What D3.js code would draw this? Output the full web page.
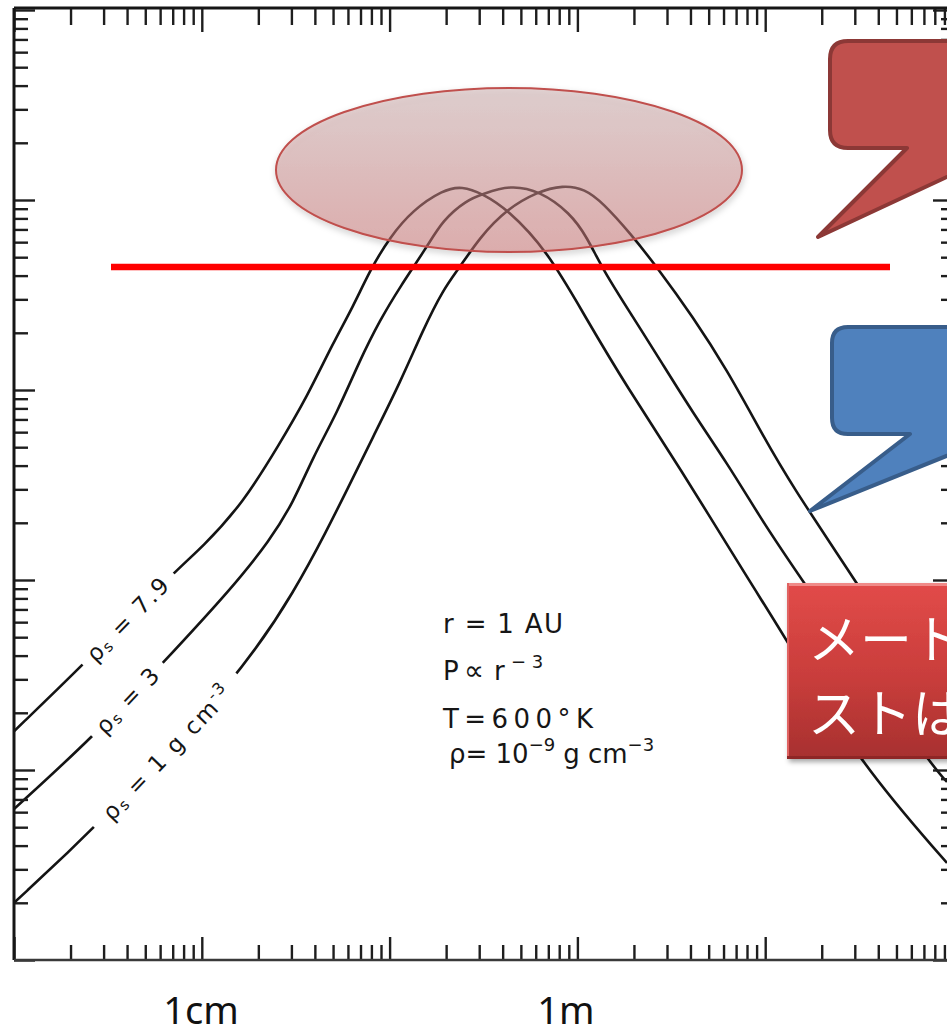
<!DOCTYPE html>
<html>
<head>
<meta charset="utf-8">
<script src="https://cdn.jsdelivr.net/npm/d3@7"></script>
<style>
  html, body { margin: 0; padding: 0; background: #fff; overflow: hidden; }
  svg { display: block; }
</style>
</head>
<body>
<svg id="chart" width="947" height="1031"></svg>
<script>
// Radial drift velocity (cm/s) versus particle radius (cm), r = 1 AU, three solid densities.
const rho79Size = [0.1, 0.233, 0.703, 1.01, 1.66, 2.61, 3.63, 5.0, 6.38, 7.87, 10.05, 13.3, 19.2, 24.3, 31.4, 42.2, 68.9, 112.5, 183.6, 339, 861, 1306, 3083, 9290];
const rho79Vel  = [16.0, 35.7, 109, 149, 254, 526, 919, 1770, 2735, 4280, 6390, 8860, 11290, 11850, 10760, 8970, 5455, 2336, 1037, 413, 91.9, 48.3, 11.3, 3.24];

const rho3Size = [0.1, 0.263, 0.621, 1.466, 2.307, 3.06, 3.91, 5.25, 6.95, 8.89, 11.35, 15.8, 19.2, 25.8, 31.4, 43.8, 63.2, 91.4, 112.5, 136.8, 197.7, 275.4, 412.7, 626, 938, 1355, 7273, 9290];
const rho3Vel  = [6.23, 14.9, 36.6, 91.9, 162.4, 254, 444, 757, 1439, 2335, 3484, 5660, 7850, 10000, 10760, 11990, 11150, 8550, 6385, 4285, 2422, 1439, 757, 413, 214.7, 122.8, 11.3, 8.65];

const rho1Size = [0.1, 0.270, 1.597, 3.21, 4.64, 5.93, 8.16, 11.35, 15.06, 19.2, 23.7, 30.3, 42.2, 60.9, 83.8, 109.8, 136.8, 190.6, 265.3, 412.7, 626.6, 937.6, 1355, 3083, 9290];
const rho1Vel  = [2.0, 4.95, 30.9, 91.9, 183.3, 297.6, 566, 1089, 2069, 3359, 4439, 6385, 8970, 11020, 11990, 11430, 9640, 6700, 4439, 2422, 1274, 615.6, 324, 96.4, 17.9];

// Curve labels: [density value text, unit exponent]
const curveLabels = [["7.9", ""], ["3", ""], ["1 g cm", "-3"]];

// Axis extents (decades)
const sizeDomain = [0.1, 1e4];
const velDomain = [1, 1e5];

// Slide annotations
const sizeLabels = ["1cm", "1m"];
const conditionLines = ["r = 1 AU", "P", "\u221D", "r", "T=600\u00B0K", "\u03C1= 10"];
const boxLines = ["メートルサイズのダ", "ストは中心星へ落下"];

// ---------------------------------------------------------------
const svg = d3.select("#chart");
const W = 947, H = 1031;
const plotL = 14, plotR = 953, plotT = 8, plotB = 960;

const x = d3.scaleLog().domain(sizeDomain).range([plotL, plotR]);
const y = d3.scaleLog().domain(velDomain).range([plotB, 10]);

const defs = svg.append("defs");
defs.append("clipPath").attr("id", "plotClip")
  .append("rect").attr("x", plotL).attr("y", plotT).attr("width", plotR - plotL).attr("height", plotB - plotT);

const ellGrad = defs.append("linearGradient").attr("id", "ellGrad").attr("x1", 0).attr("y1", 0).attr("x2", 0).attr("y2", 1);
ellGrad.append("stop").attr("offset", "0%").attr("stop-color", "rgb(206,176,176)").attr("stop-opacity", 0.5);
ellGrad.append("stop").attr("offset", "100%").attr("stop-color", "rgb(203,115,115)").attr("stop-opacity", 0.5);

const boxGrad = defs.append("linearGradient").attr("id", "boxGrad").attr("x1", 0).attr("y1", 0).attr("x2", 0).attr("y2", 1);
boxGrad.append("stop").attr("offset", "0%").attr("stop-color", "#e24b49");
boxGrad.append("stop").attr("offset", "55%").attr("stop-color", "#c83d3b");
boxGrad.append("stop").attr("offset", "100%").attr("stop-color", "#a7302f");

const shadow = defs.append("filter").attr("id", "shadow").attr("x", "-10%").attr("y", "-10%").attr("width", "130%").attr("height", "140%");
shadow.append("feDropShadow").attr("dx", 2).attr("dy", 3).attr("stdDeviation", 2.5)
  .attr("flood-color", "#000").attr("flood-opacity", 0.35);

const softShadow = defs.append("filter").attr("id", "softShadow").attr("x", "-10%").attr("y", "-10%").attr("width", "130%").attr("height", "140%");
softShadow.append("feDropShadow").attr("dx", 1).attr("dy", 3).attr("stdDeviation", 3)
  .attr("flood-color", "#000").attr("flood-opacity", 0.25);

svg.append("rect").attr("width", W).attr("height", H).attr("fill", "#fff");

// ---- curves ----
const series = [
  { size: rho79Size, vel: rho79Vel, label: curveLabels[0] },
  { size: rho3Size,  vel: rho3Vel,  label: curveLabels[1] },
  { size: rho1Size,  vel: rho1Vel,  label: curveLabels[2] }
];

const line = d3.line()
  .x(d => x(d[0]))
  .y(d => y(d[1]))
  .curve(d3.curveBasis);

const plot = svg.append("g").attr("clip-path", "url(#plotClip)");

series.forEach(s => {
  const pts = s.size.map((v, i) => [v, s.vel[i]]);
  plot.append("path")
    .attr("d", line(pts))
    .attr("fill", "none")
    .attr("stroke", "#141414")
    .attr("stroke-width", 2.6);
});

// Labels sit in a break of each curve, between its 2nd and 3rd points
series.forEach(s => {
  const x0 = x(s.size[1]), y0 = y(s.vel[1]);
  const x1 = x(s.size[2]), y1 = y(s.vel[2]);
  const cx = (x0 + x1) / 2, cy = (y0 + y1) / 2;
  const len = Math.hypot(x1 - x0, y1 - y0);
  const ang = Math.atan2(y1 - y0, x1 - x0) * 180 / Math.PI;
  const g = svg.append("g").attr("transform", `translate(${cx},${cy}) rotate(${ang})`);
  g.append("rect").attr("x", -len / 2).attr("y", -16).attr("width", len).attr("height", 32).attr("fill", "#fff");
  const t = g.append("text")
    .attr("text-anchor", "middle")
    .attr("dominant-baseline", "central")
    .attr("font-family", "'DejaVu Sans', sans-serif")
    .attr("font-size", 23)
    .attr("letter-spacing", 2)
    .attr("fill", "#151515");
  t.append("tspan").text("\u03C1");
  t.append("tspan").attr("font-size", 15).attr("dy", 5).text("s");
  t.append("tspan").attr("dy", -5).text(" = " + s.label[0]);
  if (s.label[1]) t.append("tspan").attr("font-size", 16).attr("dy", -8).text(s.label[1]);
});

// ---- axes frame ----
function decadeTicks(domain) {
  const out = [];
  const e0 = Math.round(Math.log10(domain[0])), e1 = Math.round(Math.log10(domain[1]));
  for (let e = e0; e < e1; e++) for (let m = 1; m <= 9; m++) out.push(m * Math.pow(10, e));
  out.push(Math.pow(10, e1));
  return out;
}
const isMajor = v => Math.abs(Math.log10(v) - Math.round(Math.log10(v))) < 1e-6;
const xTicks = decadeTicks(sizeDomain);
const yTicks = decadeTicks(velDomain);

function styleAxis(g, attr, minor, major) {
  g.select(".domain").remove();
  g.selectAll(".tick line")
    .attr(attr, d => isMajor(d) ? major : minor)
    .attr("stroke", "#1e1e1e")
    .attr("stroke-width", 2.4);
}

svg.append("g").attr("transform", `translate(0,${plotB})`)
  .call(d3.axisBottom(x).tickValues(xTicks).tickFormat("").tickSizeOuter(0).tickSizeInner(-15))
  .call(g => styleAxis(g, "y2", -15, -23));
svg.append("g").attr("transform", `translate(0,${plotT})`)
  .call(d3.axisTop(x).tickValues(xTicks).tickFormat("").tickSizeOuter(0).tickSizeInner(-17))
  .call(g => styleAxis(g, "y2", 17, 24));
svg.append("g").attr("transform", `translate(${plotL},0)`)
  .call(d3.axisLeft(y).tickValues(yTicks).tickFormat("").tickSizeOuter(0).tickSizeInner(-14))
  .call(g => styleAxis(g, "x2", 14, 21));
svg.append("g").attr("transform", `translate(${plotR},0)`)
  .call(d3.axisRight(y).tickValues(yTicks).tickFormat("").tickSizeOuter(0).tickSizeInner(-14))
  .call(g => styleAxis(g, "x2", -12, -20));

const frame = svg.append("g").attr("fill", "none");
frame.append("line").attr("x1", plotL).attr("x2", plotR).attr("y1", plotT).attr("y2", plotT).attr("stroke", "#161616").attr("stroke-width", 3);
frame.append("line").attr("x1", plotL).attr("x2", plotL).attr("y1", plotT).attr("y2", plotB).attr("stroke", "#161616").attr("stroke-width", 3);
frame.append("line").attr("x1", plotL).attr("x2", plotR).attr("y1", plotB).attr("y2", plotB).attr("stroke", "#3a3a3a").attr("stroke-width", 2.5);
frame.append("line").attr("x1", plotR).attr("x2", plotR).attr("y1", plotT).attr("y2", plotB).attr("stroke", "#161616").attr("stroke-width", 3);

// ---- conditions block ----
const cond = svg.append("g")
  .attr("font-family", "'DejaVu Sans', sans-serif")
  .attr("font-size", 26)
  .attr("fill", "#161616");
cond.append("text").attr("x", 443).attr("y", 633).attr("textLength", 120).attr("lengthAdjust", "spacing").text(conditionLines[0]);
const p2 = cond.append("text").attr("y", 680);
p2.append("tspan").attr("x", 443).text(conditionLines[1]);
p2.append("tspan").attr("x", 464).attr("font-size", 28).text(conditionLines[2]);
p2.append("tspan").attr("x", 494).text(conditionLines[3]);
p2.append("tspan").attr("x", 511).attr("font-size", 18).attr("dy", -12).text("\u2212 3");
cond.append("text").attr("x", 443).attr("y", 728).attr("textLength", 150).attr("lengthAdjust", "spacing").text(conditionLines[4]);
const p4 = cond.append("text").attr("x", 449).attr("y", 763);
p4.append("tspan").text(conditionLines[5]);
p4.append("tspan").attr("font-size", 18).attr("dy", -12).text("\u22129");
p4.append("tspan").attr("dx", 8).attr("dy", 12).text("g cm");
p4.append("tspan").attr("font-size", 18).attr("dy", -12).text("\u22123");

// ---- slide overlays ----
// highlighted peak region
svg.append("ellipse")
  .attr("cx", 509).attr("cy", 170).attr("rx", 233).attr("ry", 82)
  .attr("fill", "url(#ellGrad)")
  .attr("stroke", "#c0504d").attr("stroke-width", 2)
  .attr("filter", "url(#softShadow)");

// threshold line
svg.append("line")
  .attr("x1", 111).attr("x2", 890).attr("y1", 267).attr("y2", 267)
  .attr("stroke", "#ff0000").attr("stroke-width", 6.5);

// red callout
svg.append("path")
  .attr("d", "M848,41 H1100 V148 H1009 L818,237 L907,148 H848 Q830,148 830,130 V59 Q830,41 848,41 Z")
  .attr("fill", "#c0504d").attr("stroke", "#8c3836").attr("stroke-width", 4).attr("stroke-linejoin", "round");

// blue callout
svg.append("path")
  .attr("d", "M848,327 H1100 V434 H1001 L810,511 L910,434 H848 Q832,434 832,418 V343 Q832,327 848,327 Z")
  .attr("fill", "#4f81bd").attr("stroke", "#385d8a").attr("stroke-width", 4).attr("stroke-linejoin", "round");

// red text box
const box = svg.append("g").attr("filter", "url(#shadow)");
box.append("rect").attr("x", 787).attr("y", 583).attr("width", 220).attr("height", 176).attr("fill", "url(#boxGrad)");
box.append("rect").attr("x", 787).attr("y", 583).attr("width", 220).attr("height", 3).attr("fill", "#f08a88");
box.append("rect").attr("x", 787).attr("y", 583).attr("width", 2).attr("height", 176).attr("fill", "#e06462");
box.append("rect").attr("x", 787).attr("y", 756).attr("width", 220).attr("height", 3).attr("fill", "#8e2827");
const bt = svg.append("g")
  .attr("font-family", "'Noto Sans CJK JP', sans-serif")
  .attr("font-size", 52)
  .attr("fill", "#fff");
bt.append("text").attr("x", 808).attr("y", 636).attr("dominant-baseline", "central").text(boxLines[0]);
bt.append("text").attr("x", 808).attr("y", 710).attr("dominant-baseline", "central").text(boxLines[1]);

// size marks under the axis
const sizeLabelX = [201, 566];
svg.append("g")
  .attr("font-family", "'Noto Sans', sans-serif")
  .attr("font-size", 38)
  .attr("fill", "#111")
  .selectAll("text").data(sizeLabels).join("text")
  .attr("x", (d, i) => sizeLabelX[i])
  .attr("y", 1024)
  .attr("text-anchor", "middle")
  .text(d => d);
</script>
</body>
</html>
